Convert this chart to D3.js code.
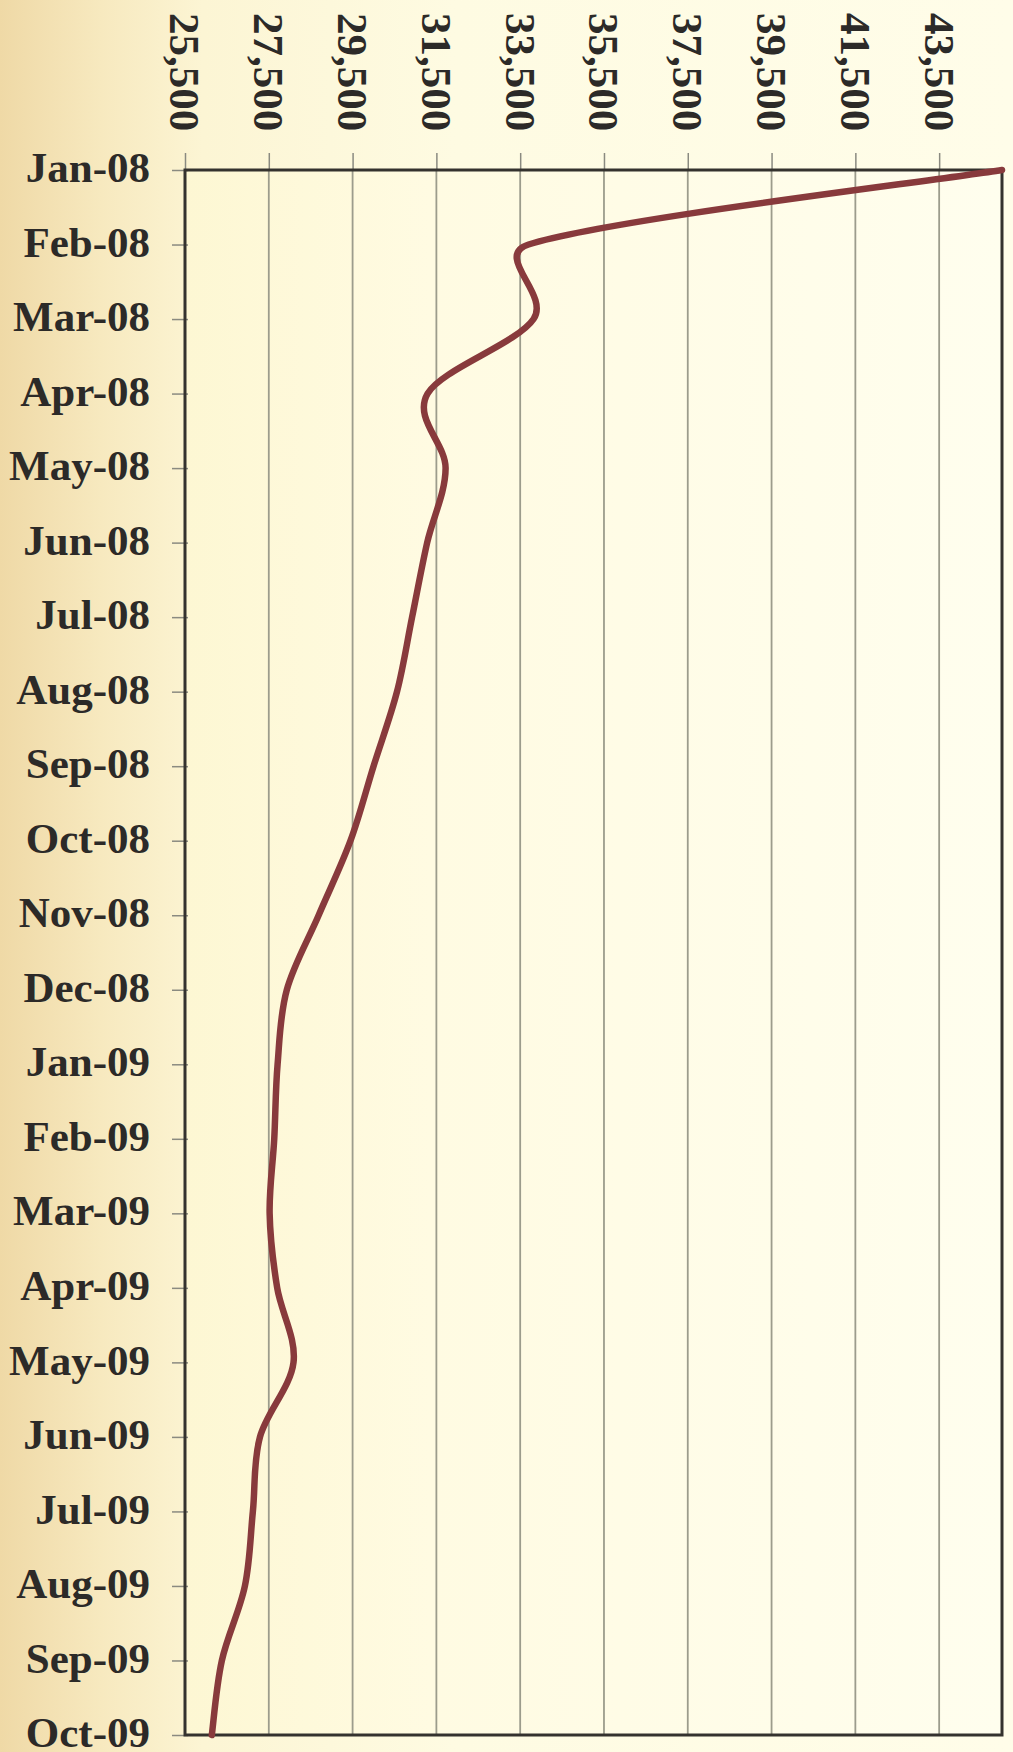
<!DOCTYPE html>
<html>
<head>
<meta charset="utf-8">
<script src="https://cdn.jsdelivr.net/npm/d3@7"></script>
<style>
  html, body { margin: 0; padding: 0; background: #fdf8dc; }
  #chart svg { display: block; }
  .lbl { font-family: "Liberation Serif", "Times New Roman", serif; font-weight: bold; font-size: 43px; fill: #2c2a28; }
</style>
</head>
<body>
<div id="chart"></div>
<script>
// Month categories, top to bottom
const MONTHS = [
  'Jan-08', 'Feb-08', 'Mar-08', 'Apr-08', 'May-08', 'Jun-08', 'Jul-08', 'Aug-08',
  'Sep-08', 'Oct-08', 'Nov-08', 'Dec-08', 'Jan-09', 'Feb-09', 'Mar-09', 'Apr-09',
  'May-09', 'Jun-09', 'Jul-09', 'Aug-09', 'Sep-09', 'Oct-09',
];

// Values
const VALUES = [
  45000, 33700, 33820, 31290, 31720, 31280, 30920, 30560,
  30000, 29450, 28690, 27930, 27710, 27630, 27520, 27700,
  28090, 27290, 27120, 26930, 26380, 26140,
];

const X_TICKS = [25500, 27500, 29500, 31500, 33500, 35500, 37500, 39500, 41500, 43500];
const X_DOMAIN = [25500, 45000];

const W = 1013, H = 1752;
const plot = { left: 185, right: 1002, top: 170, bottom: 1735 };

const svg = d3.select('#chart').append('svg')
  .attr('width', W)
  .attr('height', H);

// Background: tan on the far left fading to pale cream
const defs = svg.append('defs');
const bg = defs.append('linearGradient').attr('id', 'bg').attr('x1', 0).attr('x2', 1).attr('y1', 0).attr('y2', 0);
bg.append('stop').attr('offset', '0%').attr('stop-color', '#efd9a6');
bg.append('stop').attr('offset', '10%').attr('stop-color', '#f7e9bf');
bg.append('stop').attr('offset', '20%').attr('stop-color', '#fcf5d4');
bg.append('stop').attr('offset', '45%').attr('stop-color', '#fefbe2');
bg.append('stop').attr('offset', '100%').attr('stop-color', '#fffde9');

const pf = defs.append('linearGradient').attr('id', 'pf').attr('x1', 0).attr('x2', 1).attr('y1', 0).attr('y2', 0);
pf.append('stop').attr('offset', '0%').attr('stop-color', '#fdf7d3');
pf.append('stop').attr('offset', '30%').attr('stop-color', '#fffbe2');
pf.append('stop').attr('offset', '100%').attr('stop-color', '#fffeee');

svg.append('rect').attr('width', W).attr('height', H).attr('fill', 'url(#bg)');
svg.append('rect')
  .attr('x', plot.left).attr('y', plot.top)
  .attr('width', plot.right - plot.left).attr('height', plot.bottom - plot.top)
  .attr('fill', 'url(#pf)');

const x = d3.scaleLinear().domain(X_DOMAIN).range([plot.left, plot.right]);
const y = d3.scalePoint().domain(MONTHS).range([plot.top, plot.bottom]).padding(0);

// Vertical gridlines
svg.append('g')
  .selectAll('line')
  .data(X_TICKS.slice(1))
  .enter().append('line')
  .attr('x1', d => x(d)).attr('x2', d => x(d))
  .attr('y1', plot.top).attr('y2', plot.bottom)
  .attr('stroke', '#9c9c8c')
  .attr('stroke-width', 1.8);

// Top axis: short ticks above the frame, labels turned to read downward
const topAxis = svg.append('g')
  .attr('transform', `translate(0,${plot.top})`)
  .call(d3.axisTop(x).tickValues(X_TICKS).tickSize(17).tickSizeOuter(0).tickFormat(d3.format(',')));
topAxis.select('.domain').remove();
topAxis.selectAll('.tick line').attr('stroke', '#8a8a80').attr('stroke-width', 1.5);
topAxis.selectAll('.tick text')
  .attr('class', 'lbl')
  .attr('x', 0).attr('y', 0)
  .attr('dy', '0.35em')
  .attr('text-anchor', 'middle')
  .attr('transform', `translate(0,${72 - plot.top}) rotate(90)`);

// Left axis with month labels
const leftAxis = svg.append('g')
  .attr('transform', `translate(${plot.left + 3},0)`)
  .call(d3.axisLeft(y).tickSize(16).tickPadding(22).tickSizeOuter(0));
leftAxis.select('.domain').remove();
leftAxis.selectAll('.tick line').attr('stroke', '#8a8a80').attr('stroke-width', 1.5);
leftAxis.selectAll('.tick text')
  .attr('class', 'lbl')
  .attr('dy', '0.27em');

// Plot frame
svg.append('rect')
  .attr('x', plot.left).attr('y', plot.top)
  .attr('width', plot.right - plot.left).attr('height', plot.bottom - plot.top)
  .attr('fill', 'none')
  .attr('stroke', '#34322e')
  .attr('stroke-width', 3);

// Spreadsheet-style smoothing: bezier with 1/6 tangents, capped at half the
// segment length so short hops next to long ones don't overshoot.
function smoothPath(pts) {
  const p = d3.path();
  const n = pts.length;
  const dist = (a, b) => Math.hypot(b[0] - a[0], b[1] - a[1]);
  p.moveTo(pts[0][0], pts[0][1]);
  for (let i = 0; i < n - 1; i++) {
    const p0 = pts[Math.max(i - 1, 0)], p1 = pts[i], p2 = pts[i + 1], p3 = pts[Math.min(i + 2, n - 1)];
    const d02 = dist(p0, p2), d12 = dist(p1, p2), d13 = dist(p1, p3);
    const f1 = d02 / 6 < d12 / 2 ? 1 / 6 : d12 / (2 * d02);
    const f2 = d13 / 6 < d12 / 2 ? 1 / 6 : d12 / (2 * d13);
    p.bezierCurveTo(
      p1[0] + (p2[0] - p0[0]) * f1, p1[1] + (p2[1] - p0[1]) * f1,
      p2[0] - (p3[0] - p1[0]) * f2, p2[1] - (p3[1] - p1[1]) * f2,
      p2[0], p2[1]);
  }
  return p.toString();
}

const points = VALUES.map((v, i) => [x(v), y(MONTHS[i])]);

svg.append('path')
  .attr('d', smoothPath(points))
  .attr('fill', 'none')
  .attr('stroke', '#883a3c')
  .attr('stroke-width', 6.5)
  .attr('stroke-linejoin', 'round')
  .attr('stroke-linecap', 'round');
</script>
</body>
</html>
